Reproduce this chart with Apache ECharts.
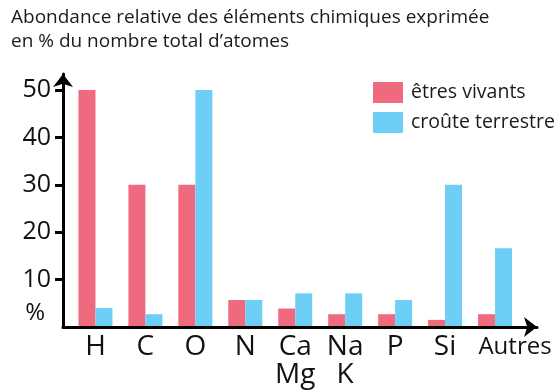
<!DOCTYPE html>
<html>
<head>
<meta charset="utf-8">
<script src="https://cdn.jsdelivr.net/npm/echarts@6/dist/echarts.min.js"></script>
<style>
html,body{margin:0;padding:0;background:#fff;}
#c{width:560px;height:392px;}
</style>
</head>
<body>
<div id="c"></div>
<script>
const titleText = "Abondance relative des éléments chimiques exprimée\nen % du nombre total d’atomes";
const categories = ['H', 'C', 'O', 'N', 'Ca\nMg', 'Na\nK', 'P', 'Si', 'Autres'];
const seriesNames = ['êtres vivants', 'croûte terrestre'];
const vivants = [50, 30, 30, 5.7, 3.9, 2.7, 2.7, 1.5, 2.7];
const croute = [4, 2.7, 50, 5.7, 7.1, 7.1, 5.7, 30, 16.6];
const yTicks = [10, 20, 30, 40, 50];
const yLabelValues = [0, 10, 20, 30, 40, 50];
const axisUnit = '%';

const RED = '#EF6A7E';
const BLUE = '#6DCEF6';
const FONT = 'Open Sans';

const chart = echarts.init(document.getElementById('c'), null, {renderer: 'canvas'});
chart.setOption({
  animation: false,
  backgroundColor: '#fff',
  textStyle: {fontFamily: FONT},
  title: {
    text: titleText,
    left: 11,
    top: 6,
    padding: 0,
    textStyle: {fontFamily: FONT, fontSize: 19, fontWeight: 'normal', color: '#1a1a1a', lineHeight: 24}
  },
  legend: {
    orient: 'vertical',
    left: 373,
    top: 82,
    padding: 0,
    itemWidth: 30,
    itemHeight: 21,
    itemGap: 9,
    icon: 'rect',
    data: seriesNames,
    textStyle: {fontFamily: FONT, fontSize: 19.5, color: '#1a1a1a', padding: [0, 0, 0, 3]}
  },
  grid: [
    {left: 70.5, right: 40, top: 74, bottom: 65},
    {left: 63, right: 23, top: 74, bottom: 65}
  ],
  xAxis: [
    {
      type: 'category',
      gridIndex: 0,
      data: categories,
      axisLine: {show: false},
      axisTick: {show: false},
      axisLabel: {
        interval: 0,
        margin: 6,
        color: '#111',
        fontFamily: FONT,
        fontSize: 28,
        lineHeight: 28,
        formatter: function (v) { return v === 'Autres' ? '{a|' + v + '}' : v; },
        rich: {a: {fontFamily: FONT, fontSize: 24, color: '#111', padding: [0, 0, 0, 40]}}
      }
    },
    {
      type: 'value',
      gridIndex: 1,
      min: 0, max: 1,
      z: 5,
      axisLine: {show: true, onZero: false, lineStyle: {color: '#000', width: 3}, symbol: ['none', 'arrow'], symbolSize: [15, 13]},
      axisTick: {show: false},
      axisLabel: {show: false},
      splitLine: {show: false}
    }
  ],
  yAxis: [
    {
      type: 'value',
      gridIndex: 0,
      min: 0,
      max: 53.4,
      offset: 7.5,
      z: 5,
      axisLine: {show: true, lineStyle: {color: '#000', width: 3}, symbol: ['none', 'arrow'], symbolSize: [15, 13]},
      axisTick: {show: true, inside: false, length: 8, lineStyle: {color: '#000', width: 3}, customValues: yTicks},
      splitLine: {show: false},
      axisLabel: {
        customValues: yLabelValues,
        margin: 12,
        color: '#111',
        fontFamily: FONT,
        fontSize: 25,
        formatter: function (v) { return v === 0 ? '{p|' + axisUnit + '}' : String(v); },
        rich: {p: {fontFamily: FONT, fontSize: 24, color: '#111', padding: [0, 6, 28, 0]}}
      }
    },
    {type: 'value', gridIndex: 1, show: false, min: 0, max: 1}
  ],
  series: [
    {
      name: seriesNames[0], type: 'bar', xAxisIndex: 0, yAxisIndex: 0,
      data: vivants, barWidth: 17, barGap: '0%',
      itemStyle: {color: RED}
    },
    {
      name: seriesNames[1], type: 'bar', xAxisIndex: 0, yAxisIndex: 0,
      data: croute, barWidth: 17, barGap: '0%',
      itemStyle: {color: BLUE}
    }
  ]
});
</script>
</body>
</html>
